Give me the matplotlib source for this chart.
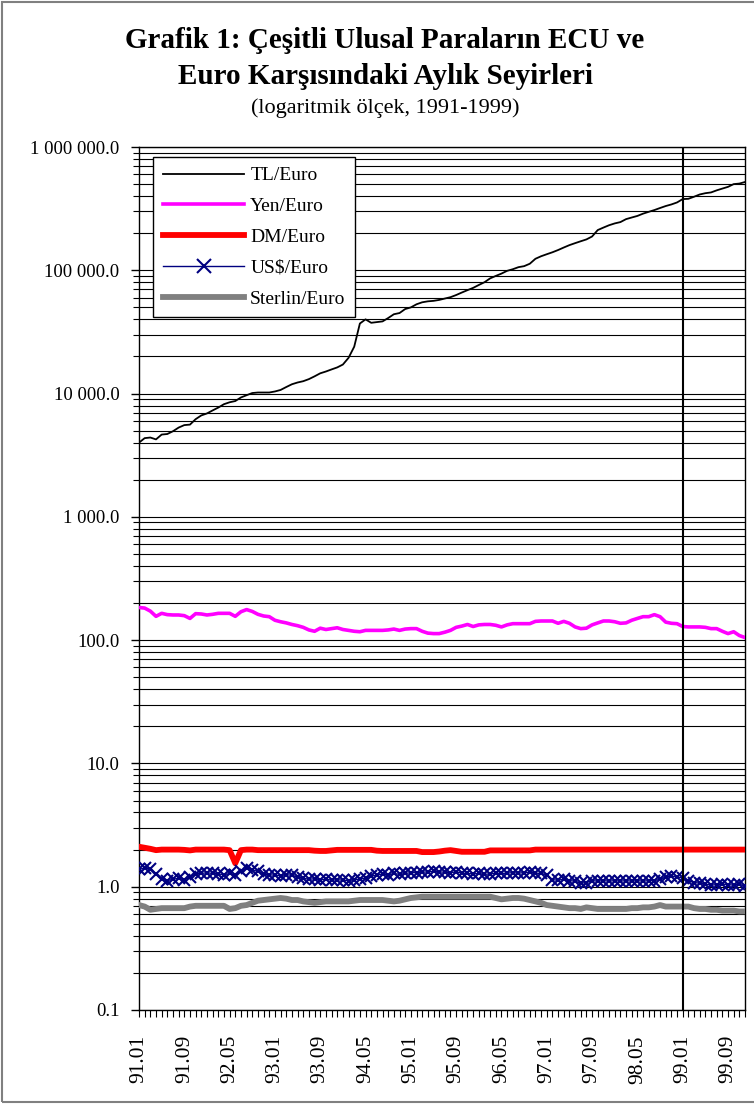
import matplotlib
matplotlib.use('Agg')
import matplotlib.pyplot as plt
from matplotlib.ticker import FixedLocator, FixedFormatter, NullFormatter
from matplotlib.patches import Rectangle
import numpy as np

# ---------------- data ----------------
months = [f"{y:02d}.{m:02d}" for y in range(91, 100) for m in range(1, 13)]

tl_euro = [4000, 4350, 4400, 4250, 4650, 4700, 4950, 5300, 5550, 5600,
           6200, 6650, 6900, 7300, 7700, 8200, 8500, 8700, 9300, 9700,
           10100, 10200, 10200, 10200, 10400, 10700, 11300, 11900, 12300, 12600,
           13100, 13800, 14600, 15100, 15700, 16300, 17200, 19500, 24000, 37000,
           40000, 37500, 38000, 38500, 41000, 44000, 45000, 48500, 50000, 53000,
           55000, 56000, 56500, 57500, 59000, 60500, 63000, 66000, 69000, 72000,
           76000, 80000, 86000, 90000, 94000, 99000, 102000, 106000, 108000, 113000,
           124000, 130000, 135000, 140000, 146000, 153000, 160000, 166000, 172000, 178000,
           188000, 212000, 222000, 232000, 240000, 246000, 260000, 268000, 276000, 288000,
           298000, 308000, 320000, 332000, 342000, 355000, 378000, 380000, 395000, 412000,
           422000, 428000, 445000, 460000, 475000, 500000, 505000, 520000]

yen_euro = [184, 182, 172, 156, 165, 161, 160, 160, 158, 150,
            164, 163, 160, 162, 165, 165, 165, 156, 170, 177,
            171, 162, 157, 155, 145, 141, 138, 134, 131, 127,
            121, 118, 125, 122, 124, 126, 122, 120, 118, 117,
            120, 120, 120, 120, 121, 123, 120, 123, 124, 124,
            118, 114, 113, 113, 116, 120, 127, 130, 134, 129,
            133, 134, 134, 132, 128, 133, 136, 136, 136, 136,
            142, 143, 143, 143, 137, 142, 137, 128, 124, 125,
            133, 138, 143, 143, 141, 137, 138, 145, 150, 155,
            155, 161, 155, 140, 137, 136, 129, 128, 128, 128,
            127, 124, 124, 118, 113, 117, 109, 105]

dm_euro = [2.11, 2.07, 2.03, 1.98, 2.00, 2.00, 2.00, 2.00, 1.99, 1.97,
           2.00, 2.00, 2.00, 2.00, 2.00, 2.00, 1.98, 1.55, 1.98, 2.00,
           2.00, 1.98, 1.98, 1.98, 1.98, 1.98, 1.98, 1.98, 1.98, 1.98,
           1.98, 1.96, 1.95, 1.95, 1.97, 1.99, 1.99, 1.99, 1.99, 1.99,
           1.99, 1.99, 1.96, 1.95, 1.95, 1.95, 1.95, 1.95, 1.95, 1.95,
           1.91, 1.91, 1.91, 1.93, 1.96, 1.98, 1.95, 1.92, 1.92, 1.92,
           1.92, 1.92, 1.97, 1.97, 1.97, 1.97, 1.97, 1.97, 1.97, 1.97,
           2.00, 2.00, 2.00, 2.00, 2.00, 2.00, 2.00, 2.00, 2.00, 2.00,
           2.00, 2.00, 2.00, 2.00, 2.00, 2.00, 2.00, 2.00, 2.00, 2.00,
           2.00, 2.00, 2.00, 2.00, 2.00, 2.00, 2.00, 2.00, 2.00, 2.00,
           2.00, 2.00, 2.00, 2.00, 2.00, 2.00, 2.00, 2.00]

usd_euro = [1.38, 1.42, 1.40, 1.27, 1.15, 1.12, 1.15, 1.17, 1.14, 1.20,
            1.27, 1.28, 1.30, 1.28, 1.27, 1.25, 1.28, 1.24, 1.33, 1.42,
            1.37, 1.33, 1.27, 1.25, 1.24, 1.23, 1.25, 1.24, 1.20, 1.17,
            1.15, 1.16, 1.14, 1.15, 1.13, 1.14, 1.13, 1.12, 1.14, 1.15,
            1.18, 1.22, 1.24, 1.27, 1.25, 1.28, 1.26, 1.28, 1.30, 1.30,
            1.31, 1.32, 1.33, 1.32, 1.31, 1.30, 1.32, 1.29, 1.28, 1.27,
            1.28, 1.26, 1.27, 1.29, 1.28, 1.29, 1.30, 1.29, 1.30, 1.31,
            1.29, 1.28, 1.25, 1.14, 1.13, 1.15, 1.12, 1.11, 1.07, 1.08,
            1.12, 1.11, 1.12, 1.11, 1.12, 1.11, 1.12, 1.11, 1.12, 1.11,
            1.12, 1.12, 1.15, 1.20, 1.22, 1.20, 1.18, 1.12, 1.08, 1.07,
            1.05, 1.03, 1.04, 1.05, 1.04, 1.03, 1.05, 1.01]

gbp_euro = [0.71, 0.69, 0.65, 0.66, 0.67, 0.67, 0.67, 0.67, 0.67, 0.69,
            0.70, 0.70, 0.70, 0.70, 0.70, 0.70, 0.66, 0.67, 0.70, 0.71,
            0.74, 0.77, 0.78, 0.79, 0.80, 0.81, 0.80, 0.78, 0.78, 0.76,
            0.75, 0.74, 0.75, 0.76, 0.76, 0.76, 0.76, 0.76, 0.77, 0.78,
            0.78, 0.78, 0.78, 0.78, 0.77, 0.76, 0.77, 0.79, 0.81, 0.82,
            0.83, 0.83, 0.83, 0.83, 0.83, 0.83, 0.83, 0.83, 0.83, 0.83,
            0.83, 0.83, 0.83, 0.81, 0.79, 0.80, 0.81, 0.81, 0.80, 0.78,
            0.76, 0.74, 0.71, 0.70, 0.69, 0.68, 0.67, 0.67, 0.66, 0.68,
            0.67, 0.66, 0.66, 0.66, 0.66, 0.66, 0.66, 0.67, 0.67, 0.68,
            0.68, 0.69, 0.71, 0.69, 0.69, 0.69, 0.69, 0.69, 0.67, 0.66,
            0.66, 0.65, 0.65, 0.64, 0.64, 0.64, 0.63, 0.63]

series_labels = ["TL/Euro", "Yen/Euro", "DM/Euro", "US$/Euro", "Sterlin/Euro"]
xtick_labels = ["91.01", "91.09", "92.05", "93.01", "93.09", "94.05", "95.01",
                "95.09", "96.05", "97.01", "97.09", "98.05", "99.01", "99.09"]
ytick_values = [0.1, 1, 10, 100, 1000, 10000, 100000, 1000000]
ytick_labels = ["0.1", "1.0", "10.0", "100.0", "1 000.0", "10 000.0",
                "100 000.0", "1 000 000.0"]
euro_start = "99.01"

# ---------------- figure ----------------
plt.rcParams['font.family'] = ['Liberation Serif', 'DejaVu Serif']
W, H = 754, 1104
fig = plt.figure(figsize=(W / 100, H / 100), dpi=100)
fig.patch.set_facecolor('white')

L, R, T, B = 139, 745, 147, 1010
ax = fig.add_axes([L / W, 1 - B / H, (R - L) / W, (B - T) / H])

x = np.arange(len(months))

ax.plot(x, tl_euro, color='black', lw=1.3, label=series_labels[0], zorder=3)
ax.plot(x, yen_euro, color='#FF00FF', lw=2.6, label=series_labels[1], zorder=3)
ax.plot(x, dm_euro, color='#FF0000', lw=4.2, label=series_labels[2], zorder=3)
ax.plot(x, usd_euro, color='#000080', lw=1.0, marker='x', markersize=8,
        markeredgewidth=1.5, label=series_labels[3], zorder=4)
ax.plot(x, gbp_euro, color='#808080', lw=4.2, label=series_labels[4], zorder=3)

ax.axvline(months.index(euro_start), color='black', lw=1.5, zorder=5)

ax.set_yscale('log')
ax.set_ylim(0.1, 1000000)
ax.set_xlim(0, len(months) - 1)

# y ticks
ax.yaxis.set_major_locator(FixedLocator(ytick_values))
ax.yaxis.set_major_formatter(FixedFormatter(ytick_labels))
minor_vals = [m * 10.0 ** e for e in range(-1, 6) for m in range(2, 10)]
ax.yaxis.set_minor_locator(FixedLocator(minor_vals))
ax.yaxis.set_minor_formatter(NullFormatter())
ax.tick_params(axis='y', which='major', direction='out', length=6, width=1,
               labelsize=13.5, pad=8)
ax.tick_params(axis='y', which='minor', direction='out', length=4, width=0.8)
ax.grid(True, axis='y', which='both', color='black', lw=0.8, zorder=1)
ax.set_axisbelow(True)

# x ticks
ax.xaxis.set_major_locator(FixedLocator([months.index(l) for l in xtick_labels]))
ax.xaxis.set_major_formatter(FixedFormatter(xtick_labels))
ax.xaxis.set_minor_locator(FixedLocator(x))
ax.tick_params(axis='x', which='both', direction='out', length=5, width=0.8)
ax.tick_params(axis='x', which='major', labelsize=15.5, labelrotation=90, pad=13)

for s in ax.spines.values():
    s.set_color('black')
    s.set_linewidth(1.0)

# legend
leg = ax.legend(loc='upper left', bbox_to_anchor=((153 - L) / (R - L), 1 - (157 - T) / (B - T)),
                borderaxespad=0, frameon=True, fancybox=False, framealpha=1,
                edgecolor='black', fontsize=14, handlelength=4.2, handletextpad=0.3,
                labelspacing=0.68, borderpad=0.5, markerscale=1.2)
leg.get_frame().set_linewidth(1.0)
leg.set_zorder(10)

# titles
cx = 385 / W
fig.text(cx, 1 - 40 / H, "Grafik 1: Çeşitli Ulusal Paraların ECU ve",
         ha='center', va='center', fontsize=21, fontweight='bold')
fig.text(cx, 1 - 77 / H, "Euro Karşısındaki Aylık Seyirleri",
         ha='center', va='center', fontsize=21, fontweight='bold')
fig.text(cx, 1 - 108 / H, "(logaritmik ölçek, 1991-1999)",
         ha='center', va='center', fontsize=16)

# outer border
fig.patches.append(Rectangle((2 / W, 2 / H), 1.0, 1 - 4 / H, transform=fig.transFigure,
                             fill=False, edgecolor='#808080', lw=1.5))

fig.savefig('out.png', dpi=100)
